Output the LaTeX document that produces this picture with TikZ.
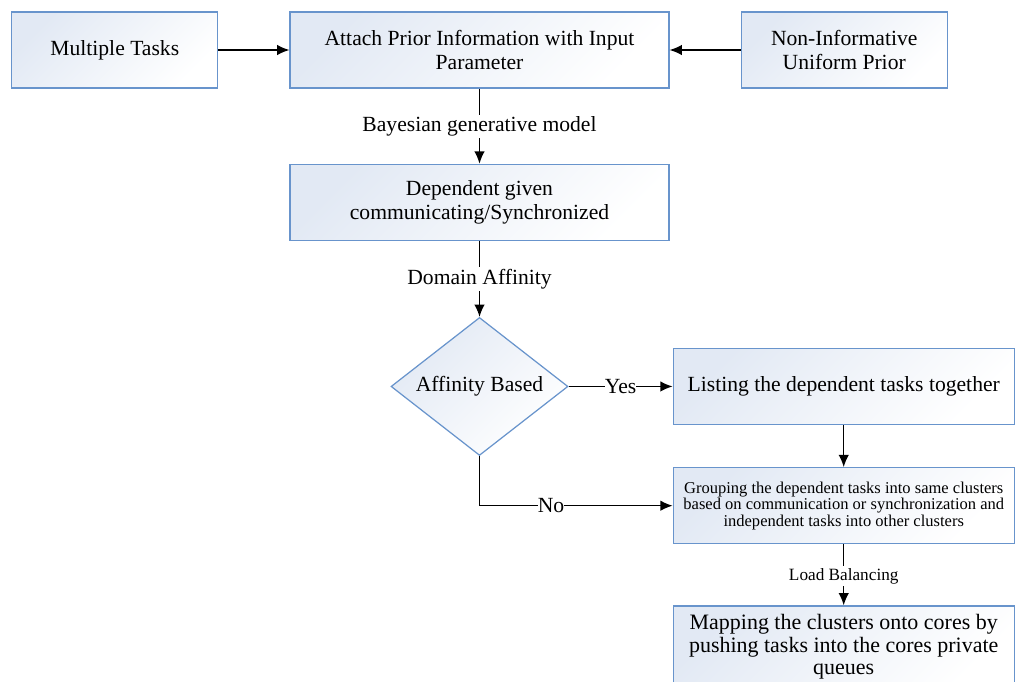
\documentclass[tikz,border=0pt]{standalone}
\usepackage{fontspec}
\setmainfont{Liberation Serif}
\usepackage{tikz}
\usetikzlibrary{arrows,arrows.meta,shapes,positioning}
\usepackage{xcolor}
\definecolor{flowblue}{RGB}{104,148,204}
\definecolor{flowpale}{RGB}{226,233,244}
\tikzstyle{stage} = [rectangle, minimum width=4.12cm, minimum height=1.52cm, text centered, align=center, draw=flowblue, top color=flowpale, bottom color=white, shading angle=45, line width=0.7pt, font=\fontsize{12.3}{14}\selectfont]
\tikzstyle{decision} = [diamond, aspect=1.28, inner sep=0pt, minimum width=3.54cm, minimum height=2.76cm, text centered, draw=flowblue, top color=flowpale, bottom color=white, shading angle=45, line width=0.7pt, font=\fontsize{12.3}{14}\selectfont]
\tikzstyle{arrow} = [line width=0.8pt,->,>={Latex[length=7pt,width=6pt]},color=black]
\tikzstyle{tag} = [fill=white, inner sep=1pt, font=\fontsize{12.3}{14}\selectfont]

\begin{document}
\begin{tikzpicture}[node distance=1cm]
\clip (0,0) rectangle (20.38,-13.62);
\useasboundingbox (0,0) rectangle (20.38,-13.62);

\node[stage, minimum width=7.58cm] at (9.59,-1.0) (attach) {Attach Prior Information with Input\\Parameter};
\node[stage, left=1.42cm of attach] (multi) {Multiple Tasks};
\node[stage, right=1.42cm of attach] (uniform) {Non-Informative\\Uniform Prior};
\node[stage, minimum width=7.58cm, below=1.5cm of attach] (depend) {Dependent given\\communicating/Synchronized};
\node[decision, below=1.52cm of depend] (affinity) {Affinity Based};
\node[stage, minimum width=6.82cm, right=2.08cm of affinity] (listing) {Listing the dependent tasks together};
\node[stage, minimum width=6.82cm, below=0.84cm of listing, font=\fontsize{9.4}{9.4}\selectfont] (group) {Grouping the dependent tasks into same clusters\\based on communication or synchronization and\\independent tasks into other clusters};
\node[stage, minimum width=6.82cm, minimum height=1.64cm, inner sep=1pt, below=1.22cm of group, font=\fontsize{12.5}{12.8}\selectfont] (mapping) {Mapping the clusters onto cores by\\pushing tasks into the cores private\\queues};

\draw[arrow] (multi) -- (attach);
\draw[arrow] (uniform) -- (attach);
\draw[arrow] (attach) -- node[tag] {Bayesian generative model} (depend);
\draw[arrow] (depend) -- node[tag] {Domain Affinity} (affinity);
\draw[arrow] (affinity) -- node[tag, inner sep=0pt] {Yes} (listing);
\draw[arrow] (affinity.south) |- node[tag, pos=0.685, inner sep=0pt] {No} (group.west);
\draw[arrow] (listing) -- (group);
\draw[arrow] (group) -- node[tag, font=\fontsize{9.8}{11}\selectfont, pos=0.52] {Load Balancing} (mapping);
\end{tikzpicture}
\end{document}
